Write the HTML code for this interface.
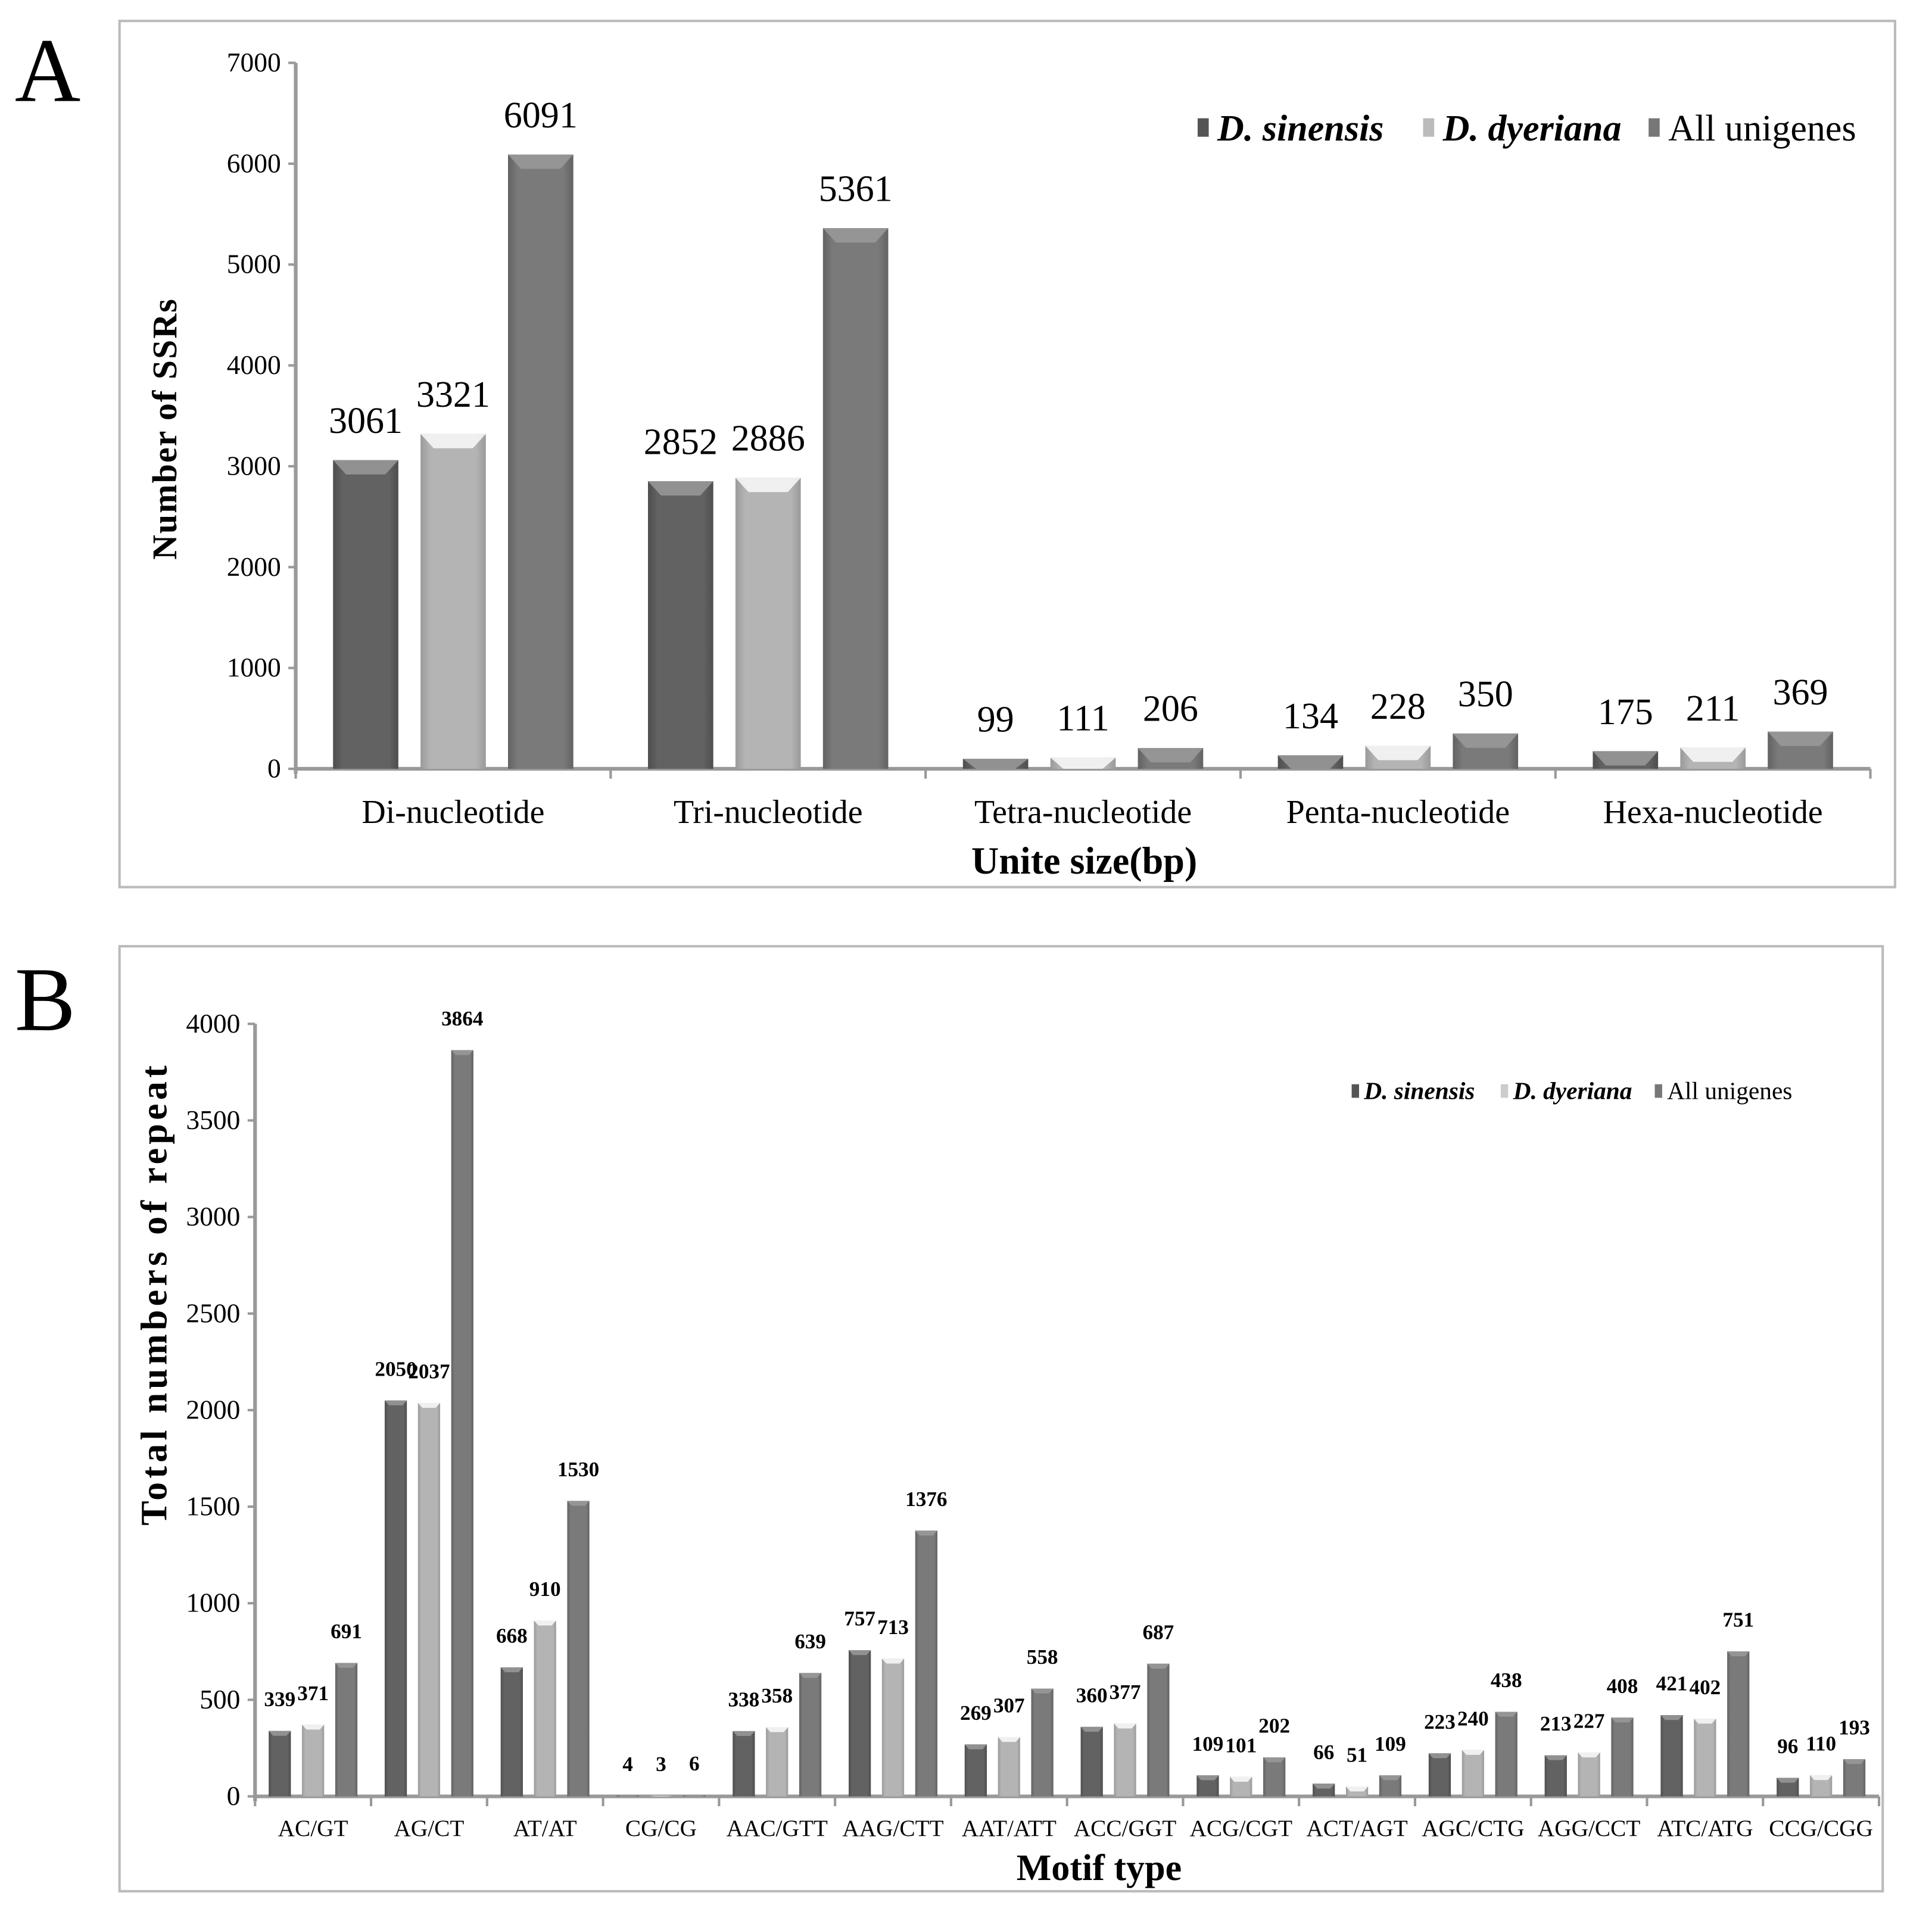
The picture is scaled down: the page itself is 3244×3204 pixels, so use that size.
<!DOCTYPE html>
<html><head><meta charset="utf-8"><style>
html,body{margin:0;padding:0;background:#fff}
svg{display:block;font-family:"Liberation Serif",serif}
</style></head><body>
<svg id="fig" width="3244" height="3204" viewBox="0 0 1568 1548.6" preserveAspectRatio="none" xmlns="http://www.w3.org/2000/svg">
<defs>
<linearGradient id="g0" x1="0" x2="1"><stop offset="0" stop-color="#4e4e4e"/><stop offset="0.15" stop-color="#626262"/><stop offset="0.85" stop-color="#626262"/><stop offset="1" stop-color="#4e4e4e"/></linearGradient>
<linearGradient id="g1" x1="0" x2="1"><stop offset="0" stop-color="#9a9a9a"/><stop offset="0.15" stop-color="#b4b4b4"/><stop offset="0.85" stop-color="#b4b4b4"/><stop offset="1" stop-color="#9a9a9a"/></linearGradient>
<linearGradient id="g2" x1="0" x2="1"><stop offset="0" stop-color="#626262"/><stop offset="0.15" stop-color="#7a7a7a"/><stop offset="0.85" stop-color="#7a7a7a"/><stop offset="1" stop-color="#626262"/></linearGradient>
</defs>
<rect x="97" y="17" width="1441" height="703" fill="#fff" stroke="#bbb" stroke-width="2"/>
<rect x="97" y="768" width="1431" height="767" fill="#fff" stroke="#bbb" stroke-width="2"/>
<text x="12" y="82" font-size="74">A</text>
<text x="12" y="836" font-size="74">B</text>
<g id="chartA"></g>
<g id="chartB"></g>
</svg>
<script>
// ---- Panel A data ----
const catsA = ["Di-nucleotide","Tri-nucleotide","Tetra-nucleotide","Penta-nucleotide","Hexa-nucleotide"];
const sinA = [3061,2852,99,134,175];
const dyeA = [3321,2886,111,228,211];
const allA = [6091,5361,206,350,369];
const ticksA = [0,1000,2000,3000,4000,5000,6000,7000];
// ---- Panel B data ----
const catsB = ["AC/GT","AG/CT","AT/AT","CG/CG","AAC/GTT","AAG/CTT","AAT/ATT","ACC/GGT","ACG/CGT","ACT/AGT","AGC/CTG","AGG/CCT","ATC/ATG","CCG/CGG"];
const sinB = [339,2050,668,4,338,757,269,360,109,66,223,213,421,96];
const dyeB = [371,2037,910,3,358,713,307,377,101,51,240,227,402,110];
const allB = [691,3864,1530,6,639,1376,558,687,202,109,438,408,751,193];
const ticksB = [0,500,1000,1500,2000,2500,3000,3500,4000];
const legendNames = ["D. sinensis","D. dyeriana","All unigenes"];

const NS="http://www.w3.org/2000/svg";
function mk(parent,tag,attrs,text){const e=document.createElementNS(NS,tag);for(const k in attrs)e.setAttribute(k,attrs[k]);if(text!==undefined)e.textContent=text;parent.appendChild(e);return e;}

function drawChart(g,cfg){
  const {x0,x1,y0,yTop,max,cats,series,ticks,bw,step,tickFs,labFs,labBold,catFs,labGap} = cfg;
  const y=v=>y0-(v/max)*(y0-yTop);
  const gw=(x1-x0)/cats.length;
  const ya=mk(g,'line',{x1:x0,y1:yTop,x2:x0,y2:y0+4,stroke:'#999','stroke-width':3});
  
  
  const xa=mk(g,'line',{x1:x0,y1:y0,x2:x1,y2:y0,stroke:'#999','stroke-width':3});
  
  
  ticks.forEach(t=>{
    mk(g,'line',{x1:x0-6,y1:y(t),x2:x0,y2:y(t),stroke:'#999','stroke-width':2});
    const tl=mk(g,'text',{x:x0-12,y:y(t)+7,'font-size':tickFs,'text-anchor':'end'},String(t));
    
    
  });
  for(let i=0;i<=cats.length;i++){mk(g,'line',{x1:x0+gw*i,y1:y0,x2:x0+gw*i,y2:y0+8,stroke:'#999','stroke-width':2});}
  cats.forEach((c,i)=>{
    const cx=x0+gw*(i+0.5);
    const cl=mk(g,'text',{x:cx,y:y0+cfg.catDy,'font-size':catFs,'text-anchor':'middle'},c);
    
    
    series.forEach((s,j)=>{
      const v=s.vals[i];
      const bx=cx+(j-1)*step-bw/2, by=y(v), h=Math.max(y0-by,0.5);
      const r=mk(g,'rect',{x:bx,y:by,width:bw,height:h,fill:'url(#g'+j+')'});
      
      
      const cap=Math.min(h,bw*0.22);
      mk(g,'path',{d:`M${bx} ${by} L${bx+bw} ${by} L${bx+bw-bw*0.2} ${by+cap} L${bx+bw*0.2} ${by+cap} Z`,fill:j==1?'#fafafa':'#9a9a9a',opacity:0.85});
      const lt=mk(g,'text',{x:cx+(j-1)*step,y:by-labGap,'font-size':labFs,'text-anchor':'middle','font-weight':labBold?'bold':'normal'},String(v));
      
      
    });
  });
}

const gA=document.getElementById('chartA');
drawChart(gA,{x0:240,x1:1518,y0:624,yTop:51,max:7000,cats:catsA,
  series:[{key:'sinensis',vals:sinA},{key:'dyeriana',vals:dyeA},{key:'all',vals:allA}],
  ticks:ticksA,bw:53,step:71,tickFs:22,labFs:30,labBold:false,catFs:27,catDy:44,labGap:22});
let t=mk(gA,'text',{x:0,y:0,'font-size':28,'font-weight':'bold','text-anchor':'middle','letter-spacing':1,transform:'translate(143,348) rotate(-90)'},'Number of SSRs');

t=mk(gA,'text',{x:880,y:709,'font-size':31,'font-weight':'bold','text-anchor':'middle'},'Unite size(bp)');

[[972,'#555'],[1155,'#bbb'],[1338,'#777']].forEach((p,k)=>{
  mk(gA,'rect',{x:p[0],y:96,width:9,height:15,fill:p[1]});
  const lt=mk(gA,'text',{x:p[0]+16,y:114,'font-size':30,'font-style':k<2?'italic':'normal','font-weight':k<2?'bold':'normal'},legendNames[k]);
  
  
});

const gB=document.getElementById('chartB');
drawChart(gB,{x0:207,x1:1525,y0:1458,yTop:831,max:4000,cats:catsB,
  series:[{key:'sinensis',vals:sinB},{key:'dyeriana',vals:dyeB},{key:'all',vals:allB}],
  ticks:ticksB,bw:18,step:27,tickFs:22,labFs:17,labBold:true,catFs:19,catDy:32,labGap:20});
t=mk(gB,'text',{x:0,y:0,'font-size':30,'font-weight':'bold','text-anchor':'middle','letter-spacing':3,transform:'translate(135,1050) rotate(-90)'},'Total numbers of repeat');

t=mk(gB,'text',{x:892,y:1526,'font-size':30,'font-weight':'bold','text-anchor':'middle'},'Motif type');

[[1097,'#555'],[1218,'#ccc'],[1343,'#777']].forEach((p,k)=>{
  mk(gB,'rect',{x:p[0],y:880,width:6,height:11,fill:p[1]});
  const lt=mk(gB,'text',{x:p[0]+10,y:892,'font-size':20,'font-style':k<2?'italic':'normal','font-weight':k<2?'bold':'normal'},legendNames[k]);
  
  
});
</script>
</body></html>
